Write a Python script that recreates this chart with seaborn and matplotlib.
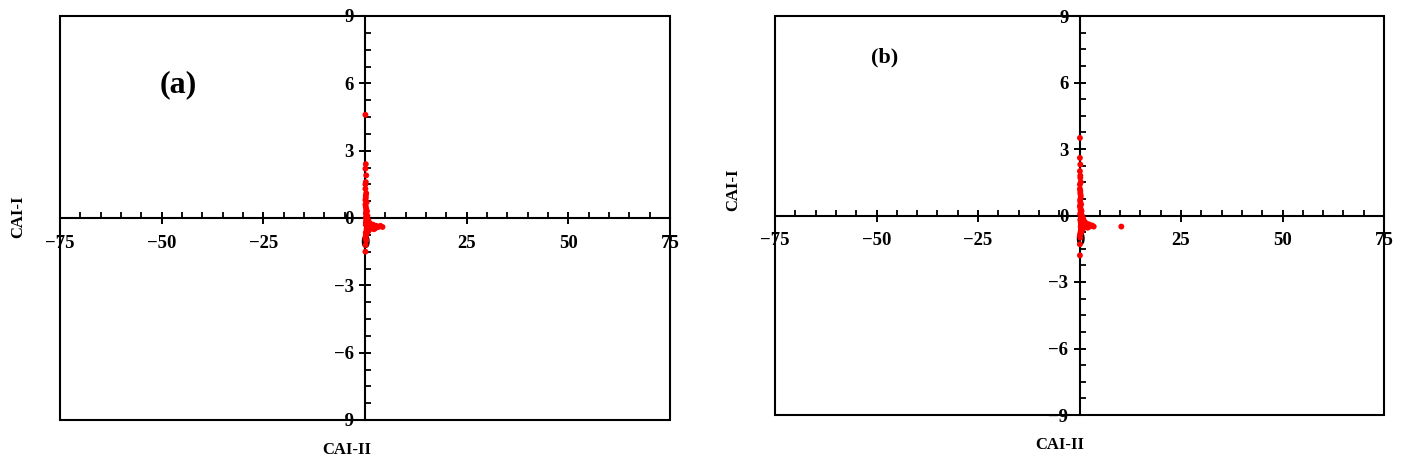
import matplotlib
matplotlib.use("Agg")
import matplotlib.pyplot as plt
import seaborn as sns
from matplotlib.patches import Rectangle
from matplotlib.ticker import MultipleLocator

# CAI-II (x) vs CAI-I (y), panel (a)
xa = [0.1, 0.2, 0.1, 0.3, 0.2, 0.1, 0.3, 0.2, 0.4, 0.1, 0.2, 0.3, 0.5, 0.2, 0.6,
      0.4, 0.8, 1.0, 1.3, 1.6, 2.0, 2.4, 2.8, 3.3, 3.8, 4.3, 0.7, 0.9, 1.2, 0.5,
      0.3, 0.2, 0.1, 0.3, 0.4, 0.2, 0.1, 0.2, 0.3, 0.1, 0.6, 0.4, 0.2, 0.1, 0.3,
      1.5, 2.2, 0.9, 0.15, 0.25, 0.5, 0.7, 1.1, 0.4, 0.6, 0.3, 0.2, 0.8, 1.8, 2.6]
ya = [4.6, 2.4, 2.2, 1.9, 1.6, 1.3, 1.1, 0.9, 0.7, 0.6, 0.5, 0.4, 0.3, 0.2, 0.1,
      0.0, -0.1, -0.2, -0.25, -0.3, -0.3, -0.35, -0.35, -0.4, -0.35, -0.4, -0.5, -0.45, -0.5, -0.6,
      -0.7, -0.8, -0.9, -1.0, -0.5, -0.3, -1.5, -0.2, -0.1, 0.8, -0.2, -0.15, 1.0, 1.5, 0.3,
      -0.45, -0.5, -0.3, -1.2, 0.05, -0.05, -0.3, -0.4, -0.6, -0.55, -0.75, -0.65, -0.6, -0.4, -0.45]

# panel (b)
xb = [0.1, 0.1, 0.2, 0.1, 0.2, 0.3, 0.1, 0.2, 0.3, 0.2, 0.4, 0.1, 0.3, 0.5, 0.2,
      0.6, 0.8, 1.0, 1.3, 1.6, 1.9, 2.3, 2.7, 3.1, 3.5, 0.7, 0.9, 1.2, 0.4, 0.3,
      0.2, 0.1, 0.2, 0.3, 0.1, 0.2, 0.4, 0.3, 0.2, 0.1, 10.3, 0.5, 0.3, 0.15, 1.5,
      2.0, 0.25, 0.35, 0.1, 0.2, 0.6, 0.4, 0.8, 1.1, 0.5, 0.3, 2.5, 0.2, 0.15, 0.35]
yb = [3.5, 2.6, 2.3, 2.0, 1.7, 1.5, 1.2, 1.0, 0.8, 0.6, 0.5, 0.4, 0.3, 0.2, 0.1,
      0.0, -0.1, -0.2, -0.3, -0.35, -0.4, -0.4, -0.45, -0.45, -0.5, -0.5, -0.45, -0.55, -0.6, -0.7,
      -0.8, -0.9, -1.0, -0.3, -1.8, -0.2, -0.1, 0.9, 1.1, 1.4, -0.5, -0.25, -0.15, 0.7, -0.5,
      -0.55, 0.25, -0.4, -1.3, 0.05, -0.35, -0.65, -0.6, -0.4, -0.75, -0.5, -0.5, 1.8, 0.45, -0.05]

panels = [
    (xa, ya, "(a)", [60, 16, 670, 420], (178, 85), 23, (18, 217), (347, 450)),
    (xb, yb, "(b)", [775, 16, 1384, 415], (885, 57), 16, (733, 190), (1060, 445)),
]

sns.set_style("white")
plt.rcParams["font.family"] = ["Liberation Serif", "DejaVu Serif"]
plt.rcParams["font.weight"] = "bold"

W, H = 1404, 467
fig = plt.figure(figsize=(W / 100, H / 100), dpi=100)


def fmt(v, p):
    return f"{v:.0f}".replace("-", "\u2212")


for x, y, tag, box, tagpos, tagsize, ylpos, xlpos in panels:
    l, t, r, b = box
    ax = fig.add_axes([l / W, 1 - b / H, (r - l) / W, (b - t) / H])
    sns.scatterplot(x=x, y=y, ax=ax, color="#ff0000", s=18, edgecolor="none", zorder=3)
    ax.set_xlim(-75, 75)
    ax.set_ylim(-9, 9)
    ax.xaxis.set_major_locator(MultipleLocator(25))
    ax.xaxis.set_minor_locator(MultipleLocator(5))
    ax.yaxis.set_major_locator(MultipleLocator(3))
    ax.yaxis.set_minor_locator(MultipleLocator(0.75))
    ax.spines["left"].set_position(("data", 0))
    ax.spines["bottom"].set_position(("data", 0))
    ax.spines["top"].set_visible(False)
    ax.spines["right"].set_visible(False)
    for s in ("left", "bottom"):
        ax.spines[s].set_linewidth(1.5)
        ax.spines[s].set_color("black")
    ax.tick_params(which="both", bottom=True, left=True, top=False, right=False)
    ax.tick_params(which="major", direction="inout", length=8, width=1.4,
                   labelsize=13.5, colors="black")
    ax.tick_params(which="minor", direction="in", length=4.5, width=1.3, colors="black")
    ax.tick_params(axis="x", which="major", pad=8)
    ax.tick_params(axis="y", which="major", pad=4)
    ax.xaxis.set_major_formatter(plt.FuncFormatter(fmt))
    ax.yaxis.set_major_formatter(plt.FuncFormatter(fmt))
    for lab in ax.get_xticklabels() + ax.get_yticklabels():
        lab.set_fontweight("bold")
    ax.add_patch(Rectangle((0, 0), 1, 1, transform=ax.transAxes, fill=False,
                           edgecolor="black", linewidth=1.5, clip_on=False, zorder=5))
    ax.set_xlabel("")
    ax.set_ylabel("")
    fig.text(tagpos[0] / W, 1 - tagpos[1] / H, tag, fontsize=tagsize, fontweight="bold",
             ha="center", va="center", color="black")
    fig.text(ylpos[0] / W, 1 - ylpos[1] / H, "CAI-I", fontsize=12, fontweight="bold",
             rotation=90, ha="center", va="center", color="black")
    fig.text(xlpos[0] / W, 1 - xlpos[1] / H, "CAI-II", fontsize=12, fontweight="bold",
             ha="center", va="center", color="black")

fig.savefig("out.png", dpi=100)
